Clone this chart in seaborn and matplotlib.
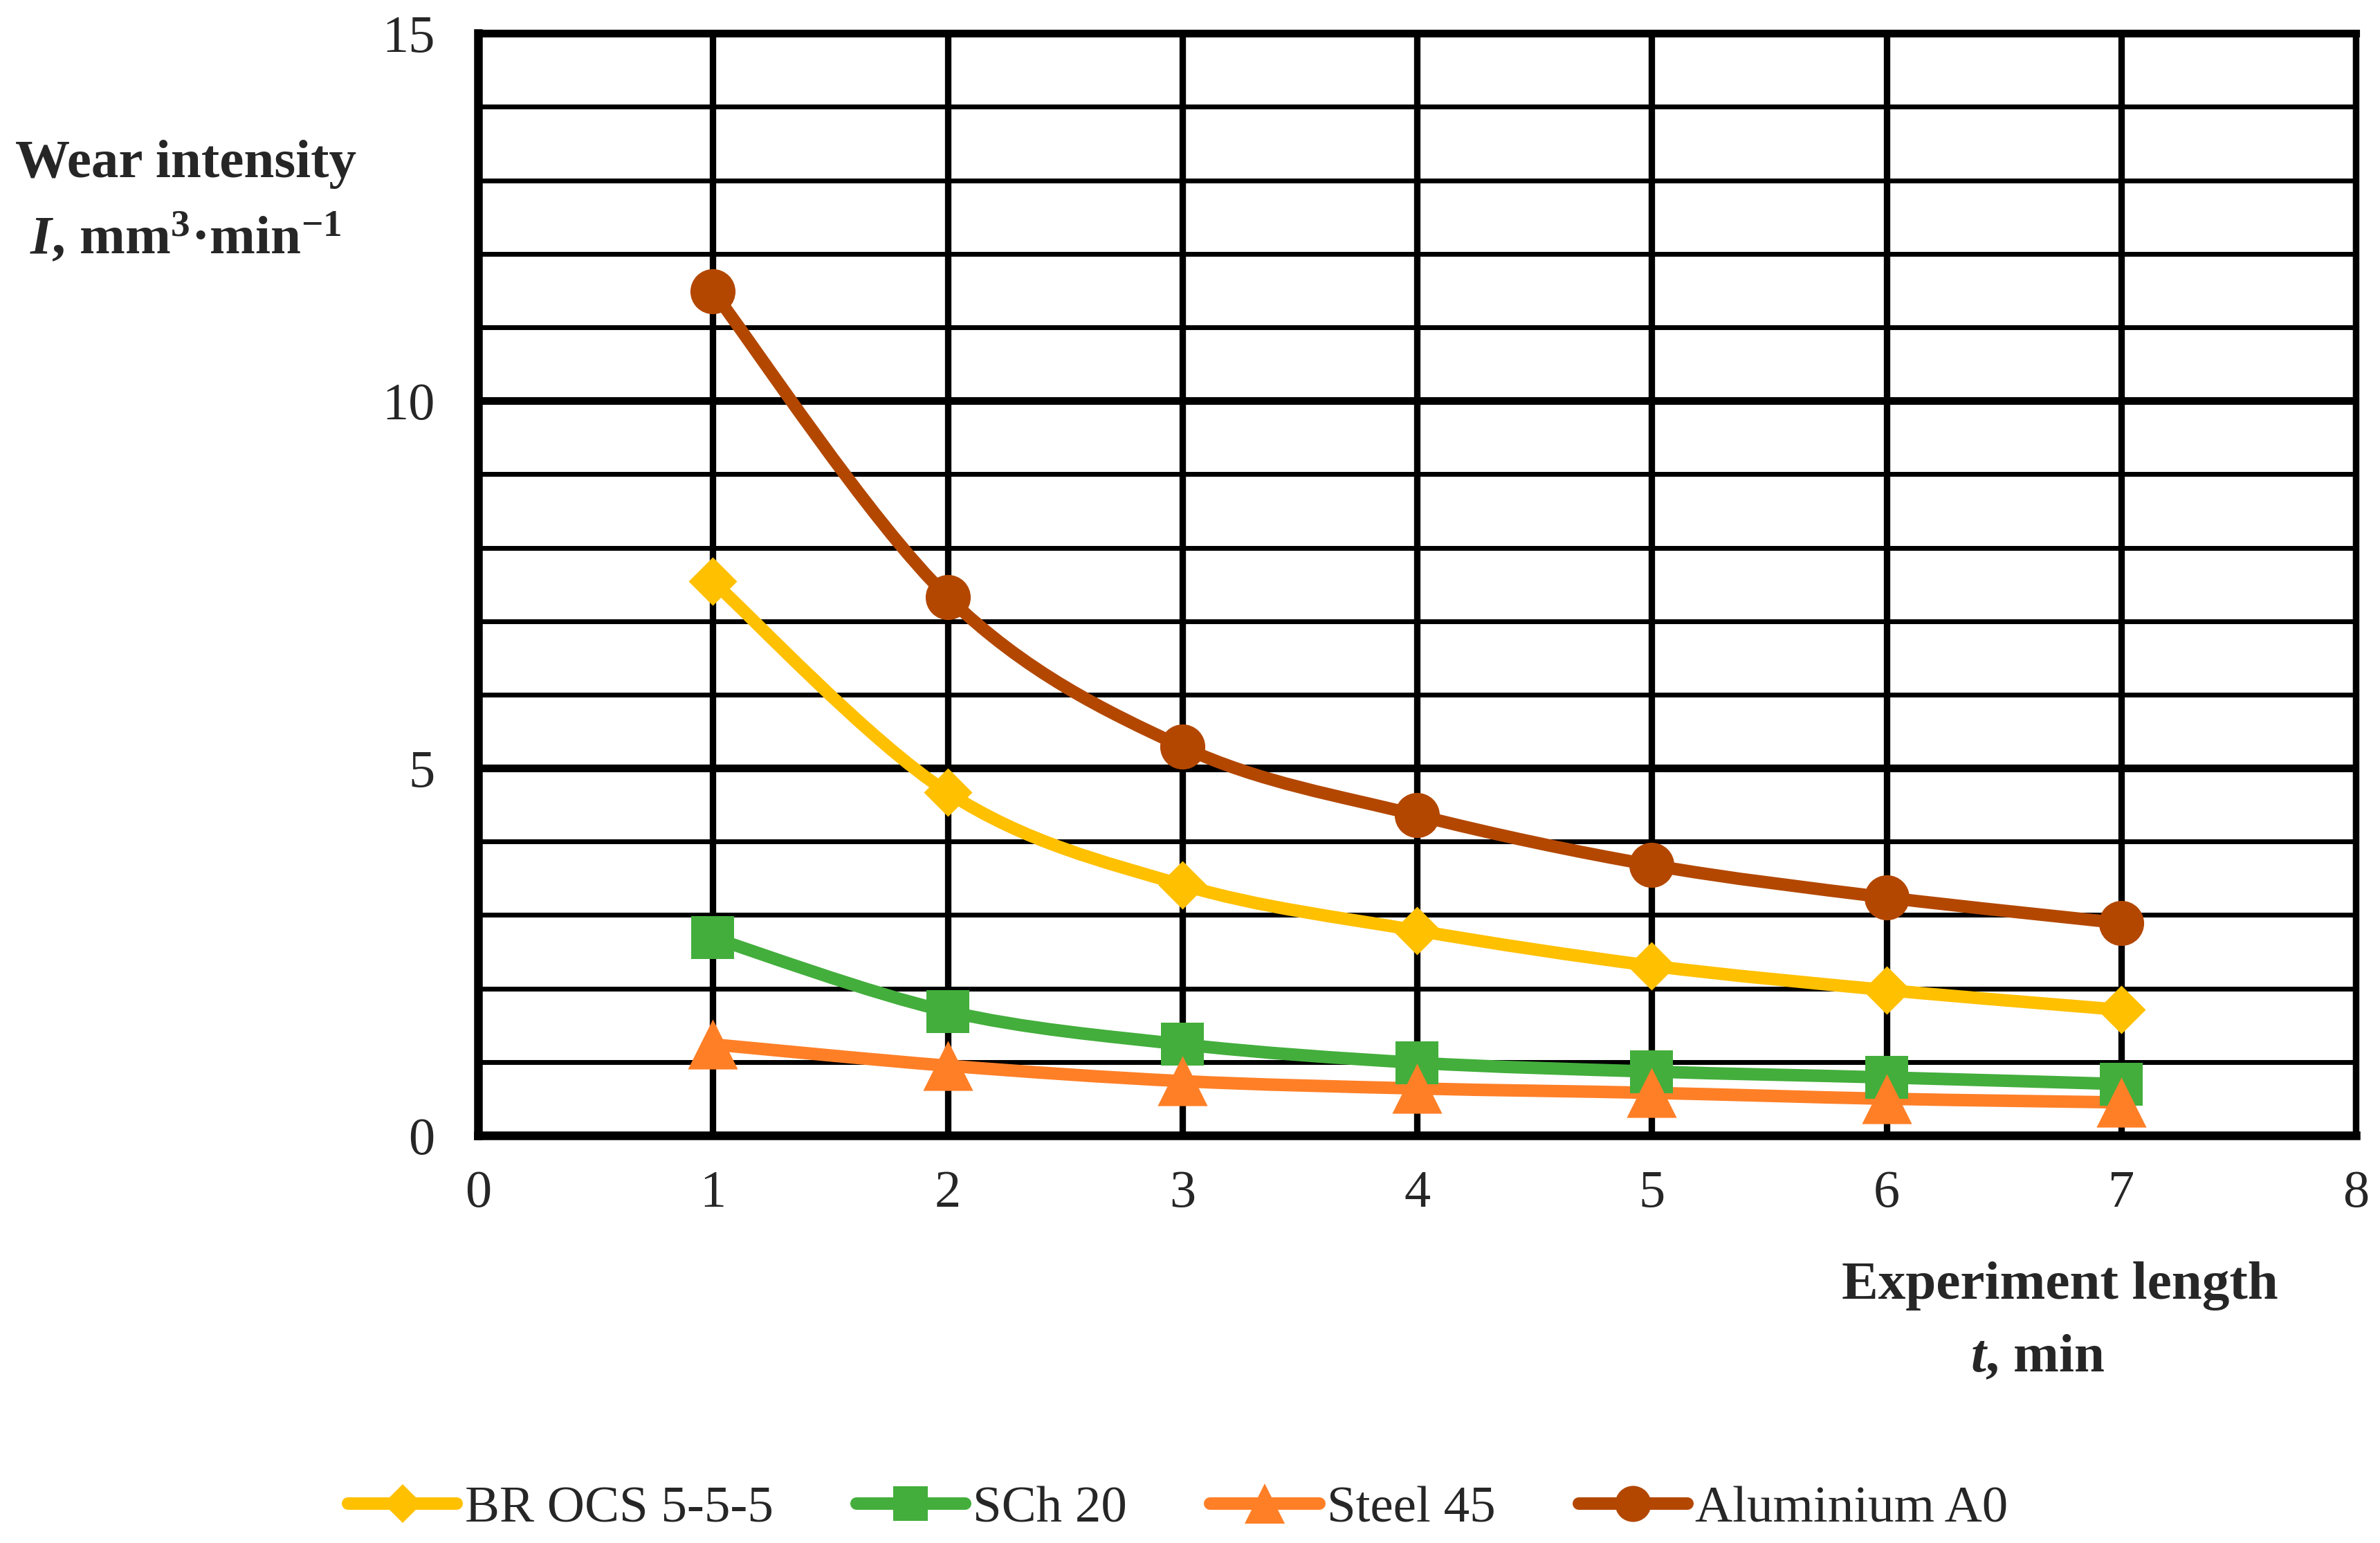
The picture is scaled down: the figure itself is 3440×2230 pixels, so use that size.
import numpy as np
import pandas as pd
import matplotlib
matplotlib.use("Agg")
import matplotlib.pyplot as plt
from matplotlib.path import Path
from matplotlib.patches import PathPatch
from matplotlib.lines import Line2D
import seaborn as sns

# Datos
tiempo = [1, 2, 3, 4, 5, 6, 7]
br_ocs = [7.54, 4.67, 3.41, 2.79, 2.31, 1.98, 1.71]
sch20 = [2.69, 1.69, 1.24, 0.99, 0.87, 0.79, 0.70]
steel45 = [1.24, 0.95, 0.74, 0.64, 0.58, 0.50, 0.45]
aluminio = [11.49, 7.33, 5.29, 4.36, 3.68, 3.24, 2.89]

series = ["BR OCS 5-5-5", "SCh 20", "Steel 45", "Aluminium A0"]
valores = [br_ocs, sch20, steel45, aluminio]
colores = ["#FFC000", "#43AE3C", "#FF7F27", "#B34700"]
marcadores = ["D", "s", "^", "o"]
tamanos = [1270, 2050, 2700, 2200]

df = pd.DataFrame({
    "t": tiempo * len(series),
    "I": sum(valores, []),
    "Material": [s for s in series for _ in tiempo],
})

sns.set_style("white")
plt.rcParams["font.family"] = ["Liberation Serif", "DejaVu Serif"]
plt.rcParams["mathtext.fontset"] = "custom"
plt.rcParams["mathtext.rm"] = "Liberation Serif:bold"
plt.rcParams["mathtext.bf"] = "Liberation Serif:bold"
plt.rcParams["mathtext.it"] = "Liberation Serif:italic:bold"


def curva_suave(x, y):
    # Curva tipo Excel (Catmull-Rom convertida a Bezier)
    p = np.column_stack([x, y]).astype(float)
    p = np.vstack([p[0], p, p[-1]])
    verts = [p[1]]
    codes = [Path.MOVETO]
    for i in range(1, len(p) - 2):
        c1 = p[i] + (p[i + 1] - p[i - 1]) / 6
        c2 = p[i + 1] - (p[i + 2] - p[i]) / 6
        verts += [c1, c2, p[i + 1]]
        codes += [Path.CURVE4] * 3
    return Path(verts, codes)


fig = plt.figure(figsize=(34.4, 22.3), dpi=100)
ax = fig.add_axes([0.2009, 0.2641, 0.789, 0.7143])

for nombre, col, mk, sz in zip(series, colores, marcadores, tamanos):
    d = df[df["Material"] == nombre]
    ax.add_patch(PathPatch(curva_suave(d["t"], d["I"]), facecolor="none",
                           edgecolor=col, lw=13, zorder=3, capstyle="round"))
    sns.scatterplot(data=d, x="t", y="I", color=col, marker=mk, s=sz,
                    linewidth=0, ax=ax, zorder=4, legend=False)

ax.set_xlim(0, 8)
ax.set_ylim(0, 15)
ax.set_xticks(range(0, 9))
ax.set_yticks([0, 5, 10, 15])
ax.set_yticks(range(0, 16), minor=True)
ax.tick_params(axis="both", which="major", labelsize=55, length=12, width=8,
               direction="out", color="black")
ax.tick_params(axis="x", which="major", pad=24)
ax.tick_params(axis="y", which="major", pad=33)
ax.tick_params(axis="y", which="minor", length=0)
ax.grid(axis="y", which="major", color="black", lw=8)
ax.grid(axis="y", which="minor", color="black", lw=5)
ax.grid(axis="x", which="major", color="black", lw=6.7)
ax.set_axisbelow(True)
ax.set_xlabel("")
ax.set_ylabel("")
for lado, ancho in [("left", 9), ("bottom", 9), ("right", 6.7), ("top", 8)]:
    ax.spines[lado].set_visible(True)
    ax.spines[lado].set_color("black")
    ax.spines[lado].set_linewidth(ancho)

# Titulos de ejes
fig.text(0.078, 0.8937, "Wear intensity", fontsize=57, fontweight="bold",
         ha="center", va="center")
fig.text(0.078, 0.845, r"$I$, mm$^{3}$·min$^{-1}$", fontsize=57,
         fontweight="bold", ha="center", va="center")
fig.text(0.8654, 0.1668, "Experiment length", fontsize=57, fontweight="bold",
         ha="center", va="center")
fig.text(0.856, 0.1195, r"$t$, min", fontsize=57, fontweight="bold",
         ha="center", va="center")

# Leyenda
handles = [Line2D([0], [0], color=c, lw=13, marker=m, markersize=np.sqrt(s) * 0.8,
                  markeredgewidth=0)
           for c, m, s in zip(colores, marcadores, tamanos)]
fig.legend(handles, series, loc="center", bbox_to_anchor=(0.495, 0.022),
           ncol=4, frameon=False, fontsize=54, handlelength=2.1,
           handletextpad=0.15, columnspacing=1.6)

plt.savefig("out.png", dpi=100)
